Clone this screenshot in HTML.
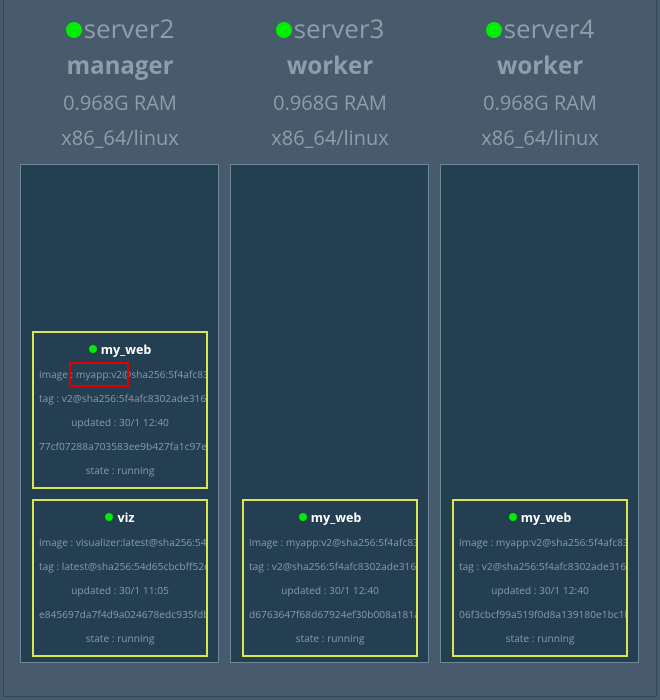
<!DOCTYPE html>
<html><head><style>
body{margin:0;width:660px;height:700px;background:#475b6c;position:relative;overflow:hidden;font-family:"Open Sans","Liberation Sans",sans-serif}
.outer{position:absolute;left:3px;top:-2px;width:652px;height:698px;border:1px solid #2e4a5e;border-top:none}
.hdr{position:absolute;width:210px;text-align:center;color:#8e9eaa}
.name{position:absolute;top:10px;width:210px;font-size:26px;line-height:36px}
.dot{display:inline-block;width:16px;height:16px;border-radius:50%;background:#00ee00;margin-right:2px;vertical-align:0px}
.role{position:absolute;top:50px;width:210px;font-size:24px;font-weight:bold;line-height:32px}
.ram{position:absolute;top:89px;width:210px;font-size:20px;line-height:28px}
.arch{position:absolute;top:124px;width:210px;font-size:20px;line-height:28px}
.col{position:absolute;top:164px;width:197px;height:497px;background:#243f52;border:1px solid #6a8898}
.card{position:absolute;width:172px;height:154px;border:2px solid #d8e650;background:#243f52;overflow:hidden}
.card div{white-space:nowrap;text-align:center;font-size:10.2px;color:#8a9aa6;height:24px;line-height:24px;overflow:visible}
.card .t{color:#fff;font-weight:bold;font-size:12.5px;margin-top:5px;height:24px}
.card .t span{display:inline-block;width:8px;height:8px;border-radius:50%;background:#00ee00;margin-right:4px;vertical-align:1px}
</style></head><body>
<div class="outer"></div>
<div class="hdr" style="left:15px"><div class="name"><span class="dot"></span>server2</div><div class="role">manager</div><div class="ram">0.968G RAM</div><div class="arch">x86_64/linux</div></div>
<div class="hdr" style="left:225px"><div class="name"><span class="dot"></span>server3</div><div class="role">worker</div><div class="ram">0.968G RAM</div><div class="arch">x86_64/linux</div></div>
<div class="hdr" style="left:435px"><div class="name"><span class="dot"></span>server4</div><div class="role">worker</div><div class="ram">0.968G RAM</div><div class="arch">x86_64/linux</div></div>
<div class="col" style="left:20px"></div>
<div class="col" style="left:230px"></div>
<div class="col" style="left:440px"></div>

<div class="card" style="left:32px;top:331px">
<div class="t"><span></span>my_web</div>
<div style="text-align:left;padding-left:5px">image : myapp:v2@sha256:5f4afc8302ade316f</div>
<div style="text-align:left;padding-left:5px">tag : v2@sha256:5f4afc8302ade316f</div>
<div>updated : 30/1 12:40</div>
<div style="text-align:left;padding-left:5px">77cf07288a703583ee9b427fa1c97ea</div>
<div>state : running</div>
</div>
<div style="position:absolute;left:69px;top:362px;width:56px;height:21px;border:2px solid #e00000"></div>

<div class="card" style="left:32px;top:499px">
<div class="t"><span></span>viz</div>
<div style="text-align:left;padding-left:5px">image : visualizer:latest@sha256:54d65cb</div>
<div style="text-align:left;padding-left:5px">tag : latest@sha256:54d65cbcbff52e</div>
<div>updated : 30/1 11:05</div>
<div style="text-align:left;padding-left:5px">e845697da7f4d9a024678edc935fdb</div>
<div>state : running</div>
</div>

<div class="card" style="left:242px;top:499px">
<div class="t"><span></span>my_web</div>
<div style="text-align:left;padding-left:5px">image : myapp:v2@sha256:5f4afc8302ade316f</div>
<div style="text-align:left;padding-left:5px">tag : v2@sha256:5f4afc8302ade316f</div>
<div>updated : 30/1 12:40</div>
<div style="text-align:left;padding-left:5px">d6763647f68d67924ef30b008a181a</div>
<div>state : running</div>
</div>

<div class="card" style="left:452px;top:499px">
<div class="t"><span></span>my_web</div>
<div style="text-align:left;padding-left:5px">image : myapp:v2@sha256:5f4afc8302ade316f</div>
<div style="text-align:left;padding-left:5px">tag : v2@sha256:5f4afc8302ade316f</div>
<div>updated : 30/1 12:40</div>
<div style="text-align:left;padding-left:5px">06f3cbcf99a519f0d8a139180e1bc1b</div>
<div>state : running</div>
</div>
</body></html>
